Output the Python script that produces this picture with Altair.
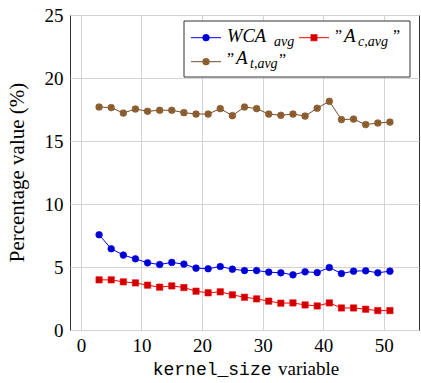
import altair as alt
import pandas as pd

# kernel sizes evaluated (odd values 3..51)
kernel_size = [3, 5, 7, 9, 11, 13, 15, 17, 19, 21, 23, 25, 27, 29, 31, 33, 35, 37, 39, 41, 43, 45, 47, 49, 51]

# percentage values per kernel size
wca_avg = [7.56, 6.45, 5.95, 5.65, 5.33, 5.20, 5.36, 5.23, 4.91, 4.86, 5.04, 4.83, 4.72,
           4.72, 4.59, 4.54, 4.38, 4.62, 4.56, 4.96, 4.48, 4.67, 4.70, 4.54, 4.67]
a_c_avg = [3.98, 3.98, 3.82, 3.74, 3.56, 3.40, 3.50, 3.37, 3.08, 2.95, 3.03, 2.79, 2.60,
           2.47, 2.29, 2.13, 2.15, 1.99, 1.91, 2.15, 1.75, 1.75, 1.65, 1.54, 1.54]
a_t_avg = [17.70, 17.65, 17.22, 17.54, 17.36, 17.44, 17.44, 17.25, 17.14, 17.14, 17.57, 17.01, 17.70,
           17.57, 17.14, 17.04, 17.14, 16.98, 17.60, 18.15, 16.70, 16.74, 16.30, 16.43, 16.50]

x_ticks = [0, 10, 20, 30, 40, 50]
y_ticks = [0, 5, 10, 15, 20, 25]

SERIF = "Times New Roman, Times, Liberation Serif, Noto Serif, DejaVu Serif, FreeSerif, serif"
MONO = "Liberation Mono, DejaVu Sans Mono, monospace"

BLUE_LINE, BLUE_FILL = "#0000ff", "#0000cc"
RED_LINE, RED_FILL = "#ff0000", "#cc0000"
BROWN_LINE, BROWN_FILL = "#734d26", "#996633"
OTIMES = "M-0.7,-0.7L0.7,0.7M-0.7,0.7L0.7,-0.7"

df = pd.DataFrame({"k": kernel_size, "wca": wca_avg, "ac": a_c_avg, "at": a_t_avg})
one = pd.DataFrame({"_": [0]})

x_enc = alt.X("k:Q", scale=alt.Scale(domain=[-1.8, 55.8], nice=False, zero=False),
              axis=alt.Axis(values=x_ticks, title=None, labelPadding=6))


def y_enc(field):
    return alt.Y(f"{field}:Q", scale=alt.Scale(domain=[0, 25], nice=False),
                 axis=alt.Axis(values=y_ticks, title=None, labelPadding=7))


base = alt.Chart(df)


def series(field, line_color, fill, shape, size, cross=False):
    layers = [
        base.mark_line(color=line_color, strokeWidth=1).encode(x=x_enc, y=y_enc(field)),
        base.mark_point(shape=shape, filled=True, fill=fill, stroke=line_color, strokeWidth=0.6,
                        size=size, opacity=1).encode(x=x_enc, y=y_enc(field)),
    ]
    if cross:
        layers.append(base.mark_point(shape=OTIMES, filled=False, stroke=line_color, strokeWidth=0.8,
                                      size=size, opacity=1).encode(x=x_enc, y=y_enc(field)))
    return layers


def txt(s, x, y, size, font=SERIF, style="normal", align="left", baseline="alphabetic", angle=0):
    return alt.Chart(one).mark_text(text=s, font=font, fontSize=size, fontStyle=style, align=align,
                                    baseline=baseline, color="black", angle=angle).encode(
        x=alt.value(x), y=alt.value(y))


def legend_symbol(x0, y0, line_color, fill, shape, size, cross=False):
    parts = [
        alt.Chart(one).mark_rule(color=line_color, strokeWidth=1).encode(
            x=alt.value(x0), x2=alt.value(x0 + 30), y=alt.value(y0)),
        alt.Chart(one).mark_point(shape=shape, filled=True, fill=fill, stroke=line_color, strokeWidth=0.6,
                                  size=size, opacity=1).encode(x=alt.value(x0 + 15), y=alt.value(y0)),
    ]
    if cross:
        parts.append(alt.Chart(one).mark_point(shape=OTIMES, filled=False, stroke=line_color, strokeWidth=0.8,
                                               size=size, opacity=1).encode(x=alt.value(x0 + 15), y=alt.value(y0)))
    return parts


legend_box = alt.Chart(one).mark_rect(fill="white", stroke="#333333", strokeWidth=1).encode(
    x=alt.value(114), x2=alt.value(340), y=alt.value(6), y2=alt.value(62))

legend = [legend_box]
legend += legend_symbol(121, 22.7, BLUE_LINE, BLUE_FILL, "circle", 45)
legend += legend_symbol(229, 22.7, RED_LINE, RED_FILL, "square", 40)
legend += legend_symbol(121, 46.7, BROWN_LINE, BROWN_FILL, "circle", 45, cross=True)
legend += [
    txt("WCA", 157, 27, 18.5, style="italic"),
    txt("avg", 204, 31, 14, style="italic"),
    txt("\u201d", 265, 25.5, 16),
    txt("A", 274, 27, 19, style="italic"),
    txt("c,avg", 288, 31, 14, style="italic"),
    txt("\u201d", 323, 25.5, 16),
    txt("\u201d", 157, 48.5, 16),
    txt("A", 166, 48.5, 19, style="italic"),
    txt("t,avg", 180, 52.5, 14, style="italic"),
    txt("\u201d", 209, 49.5, 16),
]

titles = [
    txt("kernel_size", 201.5, 360, 18, font=MONO, align="right"),
    txt("variable", 208, 360, 19),
    txt("Percentage value (%)", -52, 157.5, 21, align="center", baseline="middle", angle=270),
]

layers = (series("at", BROWN_LINE, BROWN_FILL, "circle", 45, cross=True)
          + series("ac", RED_LINE, RED_FILL, "square", 40)
          + series("wca", BLUE_LINE, BLUE_FILL, "circle", 45)
          + legend + titles)

chart = alt.layer(*layers).properties(
    width=349, height=315,
    padding={"left": 70, "top": 15, "right": 2, "bottom": 53},
    autosize="none",
    background="white",
).configure_view(
    stroke="#333333", strokeWidth=1
).configure_axis(
    labelFont=SERIF, labelFontSize=19, labelColor="black",
    ticks=False, domain=False, grid=True, gridColor="#d3d3d3", gridWidth=1,
)

chart.save("out.html", embed_options={"renderer": "svg", "actions": False})
